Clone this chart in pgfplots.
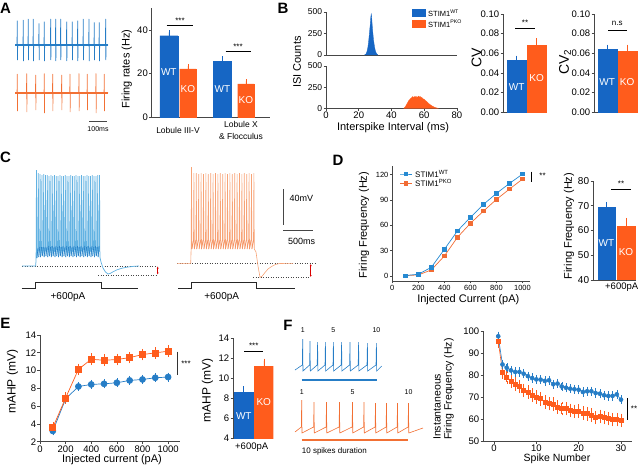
\documentclass[border=0pt]{standalone}
\usepackage{pgfplots}
\pgfplotsset{compat=1.18}
\usepackage{pgfplotstable}
\usepackage{fontspec}
\setmainfont{Liberation Sans}
\usetikzlibrary{arrows.meta}

\definecolor{wtbar}{RGB}{22,102,196}
\definecolor{kobar}{RGB}{255,92,28}
\definecolor{wttr}{RGB}{38,125,198}
\definecolor{kotr}{RGB}{242,112,52}
\definecolor{wtlt}{RGB}{98,178,226}
\definecolor{kolt}{RGB}{247,163,118}
\definecolor{wtln}{RGB}{38,138,210}
\definecolor{koln}{RGB}{241,108,52}
\definecolor{axcol}{RGB}{70,70,70}

\newcommand{\fs}[1]{\fontsize{#1}{#1}\selectfont}

\pgfplotsset{
  /pgf/number format/assume math mode=true,
  /pgf/number format/1000 sep={},
  panel/.style={
    scale only axis, anchor=south west, enlargelimits=false, clip=false,
    axis x line*=bottom, axis y line*=left,
    axis line style={axcol, line width=0.6pt},
    tick style={axcol, line width=0.6pt},
    tick align=outside, major tick length=2.5pt,
    tick label style={inner sep=1.2pt},
  },
  bars/.style={ybar, bar shift=0pt, draw=#1, fill=#1, line width=0.3pt,
    error bars/y dir=plus, error bars/y explicit,
    error bars/error bar style={#1, line width=0.6pt},
    error bars/error mark options={#1, mark size=2pt, line width=0.6pt}},
}

% whole-cell trace at +600pA, WT (picture pixels)
\pgfplotstableread{
x y
22 266
35.7 266
36.1 258
36.5 170
36.9 258
38.0 248
38.3 173
38.7 257
39.8 247
40.1 174
40.5 257
41.6 247
41.9 175
42.3 256
43.4 247
43.7 174
44.1 257
45.2 247
45.5 175
45.9 256
47.0 247
47.3 175
47.7 257
48.8 246
49.1 176
49.5 256
50.6 247
50.9 175
51.3 257
52.4 246
52.7 176
53.1 256
54.2 247
54.5 175
54.9 257
56.0 246
56.3 176
56.7 256
57.8 247
58.1 176
58.5 257
59.6 246
59.9 175
60.3 256
61.4 247
61.7 176
62.1 257
63.2 246
63.5 176
63.9 256
65.0 247
65.3 175
65.7 257
66.8 246
67.1 176
67.5 256
68.6 247
68.9 176
69.3 257
70.4 246
70.7 175
71.1 256
72.2 247
72.5 176
72.9 257
74.0 246
74.3 176
74.7 256
75.8 247
76.1 175
76.5 257
77.6 246
77.9 176
78.3 256
79.4 247
79.7 176
80.1 257
81.2 246
81.5 175
81.9 256
83.0 247
83.3 176
83.7 257
84.8 246
85.1 176
85.5 256
86.6 247
86.9 175
87.3 257
88.4 246
88.7 176
89.1 256
90.2 247
90.5 176
90.9 257
92.0 246
92.3 175
92.7 256
93.8 247
94.1 176
94.5 257
95.6 246
95.9 176
96.3 256
97.4 247
97.7 175
98.1 257
99.2 246
99.5 175
99.9 257
101 262
103 268
105.5 272
108 274
110.5 273.3
113 271.8
117 269.8
122 268.2
128 267
134 266.3
139 266
}\tracewt

% whole-cell trace at +600pA, PKO (picture pixels)
\pgfplotstableread{
x y
177 263.3
190.7 263.3
191.1 250
191.5 167
191.9 249
193.5 240
193.9 173
194.3 249
195.9 240
196.3 173
196.7 249
198.3 240
198.7 174
199.1 249
200.7 240
201.1 173
201.5 249
203.1 240
203.5 174
203.9 249
205.5 240
205.9 173
206.3 249
207.9 240
208.3 174
208.7 249
210.3 240
210.7 173
211.1 249
212.7 240
213.1 174
213.5 249
215.1 240
215.5 173
215.9 249
217.5 240
217.9 174
218.3 249
219.9 240
220.3 173
220.7 249
222.3 240
222.7 174
223.1 249
224.7 240
225.1 173
225.5 249
227.1 240
227.5 174
227.9 249
229.5 240
229.9 173
230.3 249
231.9 240
232.3 174
232.7 249
234.3 240
234.7 173
235.1 249
236.7 240
237.1 174
237.5 249
239.1 240
239.5 173
239.9 249
241.5 240
241.9 174
242.3 249
243.9 240
244.3 173
244.7 249
246.3 240
246.7 174
247.1 249
248.7 240
249.1 173
249.5 249
251.1 240
251.5 174
251.9 249
253.5 240
253.9 173
254.3 249
256 252
258 266
260 277.3
262 276.3
265 272.5
268 269
272 266.2
276 264.3
280 263.5
293 263.3
}\traceko

\begin{document}
\begin{tikzpicture}
\path[use as bounding box] (0,0) rectangle (640pt,469pt);

% ---- A: firing rates
\begin{axis}[panel, at={(151.7pt,352pt)}, width=118.3pt, height=109pt,
  xmin=0, xmax=118.3, ymin=0, ymax=50, xtick=\empty, ytick={0,20,40},
  tick label style={font=\fs{9.5}}]
\addplot[bar width=18, bars=wtbar] coordinates {(17.1,37.3) +- (0,1.5) (70.8,25.4) +- (0,1.5)};
\addplot[bar width=16.5, bars=kobar] coordinates {(36.2,22.1) +- (0,1.2) (94.2,15.2) +- (0,1.1)};
\end{axis}

% ---- B: ISI histograms
\begin{axis}[panel, at={(326pt,414pt)}, width=131pt, height=43pt,
  xmin=0, xmax=80, ymin=0, ymax=500, xtick=\empty, ytick={0,250,500},
  tick label style={font=\fs{8.5}}]
\addplot[fill=wtbar, draw=wtbar, line width=0.3pt] coordinates {
 (23.5,0) (24,5) (24.5,15) (25,40) (25.5,80) (26,150) (26.5,250) (27,350)
 (27.3,430) (27.6,478) (27.9,440) (28.2,350) (28.6,260) (29,180) (29.5,110)
 (30,60) (30.5,30) (31,12) (31.7,0)} \closedcycle;
\end{axis}
\begin{axis}[panel, at={(326pt,360.7pt)}, width=131pt, height=42.3pt,
  xmin=0, xmax=80, ymin=0, ymax=500, xtick={0,20,...,80}, ytick={0,250,500},
  tick label style={font=\fs{9.5}}, yticklabel style={font=\fs{8.5}}]
\addplot[fill=kobar, draw=kobar, line width=0.3pt] coordinates {
 (47.5,0) (48.5,20) (49.5,55) (50.5,90) (51.5,112) (52.5,128) (53,140) (53.5,125)
 (54,138) (54.5,130) (55,142) (55.5,128) (56,135) (56.5,145) (57,132) (57.5,140)
 (58,125) (58.5,130) (59,115) (60,105) (61,88) (62,70) (63,52) (64,38) (65,25)
 (66,15) (67,7) (68.5,0)} \closedcycle;
\end{axis}

% ---- B: CV and CV2
\begin{axis}[panel, at={(503pt,356.7pt)}, width=44pt, height=98.3pt,
  xmin=0, xmax=44, ymin=0, ymax=0.1, xtick=\empty,
  ytick={0,0.02,0.04,0.06,0.08,0.10}, scaled y ticks=false,
  yticklabel style={/pgf/number format/fixed, /pgf/number format/fixed zerofill, /pgf/number format/precision=2},
  tick label style={font=\fs{9.5}}]
\addplot[bar width=19.5, bars=wtbar] coordinates {(13.7,0.0532) +- (0,0.0024)};
\addplot[bar width=19, bars=kobar] coordinates {(33.7,0.0685) +- (0,0.005)};
\end{axis}
\begin{axis}[panel, at={(594pt,356.7pt)}, width=44pt, height=98.3pt,
  xmin=0, xmax=44, ymin=0, ymax=0.1, xtick=\empty,
  ytick={0,0.02,0.04,0.06,0.08,0.10}, scaled y ticks=false,
  yticklabel style={/pgf/number format/fixed, /pgf/number format/fixed zerofill, /pgf/number format/precision=2},
  tick label style={font=\fs{9.5}}]
\addplot[bar width=19, bars=wtbar] coordinates {(13.2,0.064) +- (0,0.0027)};
\addplot[bar width=19, bars=kobar] coordinates {(33.2,0.0627) +- (0,0.004)};
\end{axis}

% ---- D: f-I curve
\begin{axis}[panel, at={(392.3pt,188pt)}, width=138pt, height=115pt,
  xmin=0, xmax=1060, ymin=-6, ymax=130, xtick={0,200,...,1000}, ytick={0,30,...,120},
  tick label style={font=\fs{7.5}}]
\addplot[koln, line width=0.7pt, mark=square*, mark size=1.7pt] coordinates {
 (100,0.4) (200,1.2) (300,7.1) (400,23.6) (500,45.6) (600,62.2) (700,76.7) (800,90.5) (900,102.7) (1000,114.5)};
\addplot[wtln, line width=0.7pt, mark=square*, mark size=1.7pt] coordinates {
 (100,0.4) (200,2) (300,10.2) (400,31.5) (500,53.1) (600,69.3) (700,84.6) (800,97.6) (900,109.4) (1000,120.4)};
\end{axis}

% ---- D: bars at +600pA
\begin{axis}[panel, clip=true, at={(593pt,189pt)}, width=43pt, height=99pt,
  xmin=0, xmax=43, ymin=40, ymax=80, xtick=\empty, ytick={40,50,...,80},
  tick label style={font=\fs{10}}]
\addplot[bar width=17.5, bars=wtbar] coordinates {(13.5,69.3) +- (0,1.5)};
\addplot[bar width=18, bars=kobar] coordinates {(33,61.7) +- (0,2.6)};
\end{axis}

% ---- E: mAHP vs current
\begin{axis}[panel, at={(40pt,27.3pt)}, width=140pt, height=106.7pt,
  xmin=0, xmax=1093, ymin=2, ymax=14, xtick={0,200,...,1000}, ytick={2,4,...,14},
  tick label style={font=\fs{9.5}}]
\addplot[wttr, line width=0.7pt, mark=*, mark size=3pt,
  error bars/.cd, y dir=both, y fixed=0.3, error bar style={line width=0.6pt}, error mark options={mark size=1.8pt}]
  coordinates {(100,3.21) (200,6.81) (300,8.21) (400,8.44) (500,8.51) (600,8.63) (700,8.89) (800,9.0) (900,9.19) (1000,9.27)};
\addplot[kobar, line width=0.7pt, mark=square*, mark size=3pt,
  error bars/.cd, y dir=both, y fixed=0.45, error bar style={line width=0.6pt}, error mark options={mark size=1.8pt}]
  coordinates {(100,3.59) (200,6.92) (300,10.14) (400,11.27) (500,11.16) (600,11.24) (700,11.46) (800,11.8) (900,11.99) (1000,12.18)};
\end{axis}

% ---- E: bars at +600pA
\begin{axis}[panel, clip=true, at={(233pt,31pt)}, width=40.3pt, height=100pt,
  xmin=0, xmax=40.3, ymin=4, ymax=14, xtick=\empty, ytick={4,6,...,14},
  tick label style={font=\fs{9.5}}]
\addplot[bar width=19, bars=wtbar] coordinates {(10.5,8.63) +- (0,0.33)};
\addplot[bar width=19, bars=kobar] coordinates {(30.8,11.23) +- (0,0.5)};
\end{axis}

% ---- F: instantaneous frequency
\begin{axis}[panel, at={(483pt,28pt)}, width=149pt, height=110pt,
  xmin=-2.6, xmax=32.6, ymin=50, ymax=100, xtick={0,10,20,30}, ytick={50,60,...,100},
  tick label style={font=\fs{9.5}}]
\addplot[kobar, line width=0.6pt, mark=square*, mark size=2pt,
  error bars/.cd, y dir=both, y fixed=2.5, error bar style={line width=0.5pt}, error mark options={mark size=1.3pt}]
  coordinates {(1,95.5) (2,81.4) (3,79.1) (4,77.3) (5,75.8) (6,74.8) (7,73.0) (8,72.3) (9,70.8) (10,70.0)
  (11,69.2) (12,67.7) (13,67.0) (14,66.7) (15,65.5) (16,64.7) (17,64.7) (18,63.9) (19,63.5) (20,63.6)
  (21,62.7) (22,62.4) (23,61.7) (24,60.6) (25,61.2) (26,60.6) (27,60.2) (28,59.7) (29,59.7) (30,59.4)};
\addplot[wttr, line width=0.6pt, mark=*, mark size=2pt,
  error bars/.cd, y dir=both, y fixed=1.5, error bar style={line width=0.5pt}, error mark options={mark size=1.3pt}]
  coordinates {(1,97.6) (2,84.8) (3,83.3) (4,82.1) (5,81.4) (6,81.4) (7,80.6) (8,79.5) (9,78.6) (10,78.0)
  (11,77.9) (12,77.3) (13,77.6) (14,75.8) (15,76.1) (16,74.8) (17,74.2) (18,73.8) (19,73.5) (20,73.3)
  (21,72.3) (22,72.6) (23,72.6) (24,71.8) (25,71.5) (26,70.8) (27,70.5) (28,70.5) (29,71.2) (30,68.8)};
\end{axis}

% ---- canvas in picture pixels: traces, scale bars, annotations
\begin{axis}[at={(0pt,0pt)}, anchor=south west, scale only axis, width=640pt, height=469pt,
  xmin=0, xmax=640, ymin=0, ymax=469, y dir=reverse, hide axis, clip=false, enlargelimits=false]

% A traces
\addplot[wttr, line width=0.7pt] coordinates {(15,45)
 (17.0,45) (17.3,20.7) (17.45,60) (17.7,45) (23.0,45) (23.3,20) (23.45,61) (23.7,45)
 (28.0,45) (28.3,19) (28.45,60) (28.7,45) (33.0,45) (33.3,19) (33.45,61) (33.7,45)
 (38.7,45) (39.0,23.3) (39.15,60) (39.4,45) (44.0,45) (44.3,21.7) (44.45,61) (44.7,45)
 (50.4,45) (50.7,19) (50.85,60) (51.1,45) (55.4,45) (55.7,19) (55.85,61) (56.1,45)
 (60.4,45) (60.7,19) (60.85,60) (61.1,45) (66.4,45) (66.7,21.7) (66.85,61) (67.1,45)
 (72.0,45) (72.3,21.7) (72.45,60) (72.7,45) (77.4,45) (77.7,20.7) (77.85,61) (78.1,45)
 (83.0,45) (83.3,19) (83.45,60) (83.7,45) (88.7,45) (89.0,19) (89.15,61) (89.4,45)
 (94.0,45) (94.3,22.3) (94.45,60) (94.7,45) (99.0,45) (99.3,22.3) (99.45,61) (99.7,45)
 (105.4,45) (105.7,19) (105.85,60) (106.1,45) (108,45)};
\addplot[wttr, line width=1.6pt] coordinates {(15,45) (108,45)};
\addplot[kotr, line width=0.6pt] coordinates {(15,92.7)
 (17.0,92.7) (17.3,74) (17.45,111) (17.7,92.7) (26.4,92.7) (26.7,73.5) (26.85,112) (27.1,92.7)
 (35.4,92.7) (35.7,75) (35.85,110) (36.1,92.7) (44.0,92.7) (44.3,73.5) (44.45,113) (44.7,92.7)
 (52.4,92.7) (52.7,74) (52.85,111) (53.1,92.7) (61.4,92.7) (61.7,75) (61.85,110) (62.1,92.7)
 (69.7,92.7) (70.0,74) (70.15,112) (70.4,92.7) (78.7,92.7) (79.0,73.5) (79.15,111) (79.4,92.7)
 (87.0,92.7) (87.3,74) (87.45,110) (87.7,92.7) (95.7,92.7) (96.0,73.5) (96.15,113) (96.4,92.7)
 (104.0,92.7) (104.3,74) (104.45,111) (104.7,92.7) (108,92.7)};
\addplot[kotr, line width=1.6pt] coordinates {(15,92.7) (108,92.7)};
\addplot[axcol, line width=0.7pt] coordinates {(89,121) (106.7,121)};

% C traces
\addplot[axcol, dotted, line width=0.5pt] coordinates {(22,266) (157,266)};
\addplot[axcol, dotted, line width=0.5pt] coordinates {(98,275) (157,275)};
\addplot[wtlt, line width=0.75pt] table {\tracewt};
\addplot[wttr, line width=0.6pt, restrict y to domain=244:259] table {\tracewt};
\addplot[red!85!black, line width=0.5pt, arrows={Latex[length=2pt,width=2pt]-Latex[length=2pt,width=2pt]}]
  coordinates {(157.7,266.5) (157.7,274.5)};
\addplot[black!85, line width=0.8pt] coordinates {(21.7,288.3) (35.7,288.3) (35.7,282.7) (101,282.7) (101,288.3) (138,288.3)};

\addplot[axcol, dotted, line width=0.5pt] coordinates {(177,263.3) (315,263.3)};
\addplot[axcol, dotted, line width=0.5pt] coordinates {(253,277.5) (310,277.5)};
\addplot[kolt, line width=0.6pt] table {\traceko};
\addplot[kotr!80, line width=0.5pt, restrict y to domain=238:251] table {\traceko};
\addplot[red!85!black, line width=0.5pt, arrows={Latex[length=2pt,width=2pt]-Latex[length=2pt,width=2pt]}]
  coordinates {(310.7,264) (310.7,277)};
\addplot[black!85, line width=0.8pt] coordinates {(178,288.3) (191,288.3) (191,282.7) (256,282.7) (256,288.3) (295,288.3)};
\addplot[axcol, line width=0.7pt] coordinates {(283.3,189) (283.3,225)};
\addplot[axcol, line width=0.7pt] coordinates {(283.3,230) (313.3,230)};

% F traces
\addplot[wttr, line width=0.6pt] coordinates {(295,370) (302.3,365) (302.7,339) (303.0,371)
 (309.6,365) (310.0,341) (310.3,371) (317.2,365) (317.6,342) (317.9,371) (325.0,365) (325.4,342) (325.7,371)
 (333.0,365) (333.4,342) (333.7,371) (341.2,365) (341.6,342) (341.9,371) (349.6,365) (350.0,342) (350.3,371)
 (358.2,365) (358.6,342) (358.9,371) (367.0,365) (367.4,343) (367.7,371) (376.0,365) (376.4,343) (376.7,371)
 (381.7,366)};
\addplot[wttr, line width=2.7pt] coordinates {(301.7,380) (376.7,380)};
\addplot[kotr, line width=0.6pt] coordinates {(295,432) (301.3,427) (301.7,400) (302.0,433)
 (313.6,427) (314.0,402) (314.3,433) (326.1,427) (326.5,402) (326.8,433) (339.1,427) (339.5,402) (339.8,433)
 (352.1,427) (352.5,402) (352.8,433) (363.6,427) (364.0,402) (364.3,433) (375.1,427) (375.5,403) (375.8,433)
 (386.1,427) (386.5,403) (386.8,433) (397.1,427) (397.5,403) (397.8,433) (408.1,427) (408.5,403) (408.8,433)
 (423,428)};
\addplot[kotr, line width=2.7pt] coordinates {(301.7,440) (408.3,440)};

% legends
\addplot[wtbar, line width=8.3pt] coordinates {(412,12.85) (426,12.85)};
\addplot[kobar, line width=8pt] coordinates {(412,23.7) (426,23.7)};
\addplot[wtln, line width=0.7pt, mark=square*, mark size=1.7pt, mark indices={2}] coordinates {(400,174) (406,174) (412,174)};
\addplot[koln, line width=0.7pt, mark=square*, mark size=1.7pt, mark indices={2}] coordinates {(400,183.3) (406,183.3) (412,183.3)};

% significance lines
\addplot[black, line width=0.7pt] coordinates {(166.7,25.3) (193.3,25.3)};
\addplot[black, line width=0.7pt] coordinates {(225.7,51) (250.7,51)};
\addplot[black, line width=0.7pt] coordinates {(515,28.3) (535,28.3)};
\addplot[black, line width=0.7pt] coordinates {(608.3,30) (626.7,30)};
\addplot[black, line width=0.7pt] coordinates {(531.7,171.7) (531.7,181.7)};
\addplot[black, line width=0.7pt] coordinates {(611,189.3) (631,189.3)};
\addplot[black!80, line width=0.7pt] coordinates {(177,351.7) (177,375)};
\addplot[black, line width=0.7pt] coordinates {(244,351.7) (263.3,351.7)};
\addplot[black, line width=0.7pt] coordinates {(627.3,398) (627.3,420)};

% panel letters
\node[font=\bfseries\fs{15}] at (axis cs:5.5,8) {A};
\node[font=\bfseries\fs{15}] at (axis cs:283,8) {B};
\node[font=\bfseries\fs{15}] at (axis cs:5.5,157.5) {C};
\node[font=\bfseries\fs{15}] at (axis cs:338,160) {D};
\node[font=\bfseries\fs{15}] at (axis cs:5.5,323) {E};
\node[font=\bfseries\fs{15}] at (axis cs:288,325) {F};

% A text
\node[font=\fs{7}] at (axis cs:98,129) {100ms};
\node[rotate=90, font=\fs{11}] at (axis cs:126.7,69) {Firing rates (Hz)};
\node[font=\fs{8.5}] at (axis cs:178,130) {Lobule III-V};
\node[font=\fs{8.5}] at (axis cs:241,124.7) {Lobule X};
\node[font=\fs{8.5}] at (axis cs:241,136.7) {\& Flocculus};
\node[font=\fs{8}] at (axis cs:180,21) {***};
\node[font=\fs{8}] at (axis cs:238,46.7) {***};
\node[font=\fs{10}, text=white] at (axis cs:168.8,72) {WT};
\node[font=\fs{10}, text=white] at (axis cs:187.9,89.5) {KO};
\node[font=\fs{10}, text=white] at (axis cs:222.5,89.5) {WT};
\node[font=\fs{10}, text=white] at (axis cs:245.9,100) {KO};

% B text
\node[rotate=90, font=\fs{11}] at (axis cs:297,62) {ISI Counts};
\node[font=\fs{11}] at (axis cs:393,128) {Interspike Interval (ms)};
\node[anchor=west, font=\fs{7.5}, inner sep=0pt] at (axis cs:428,12.8) {STIM1\textsuperscript{WT}};
\node[anchor=west, font=\fs{7.5}, inner sep=0pt] at (axis cs:428,23.7) {STIM1\textsuperscript{PKO}};
\node[rotate=90, font=\fs{14}] at (axis cs:476.5,58) {CV};
\node[rotate=90, font=\fs{14}] at (axis cs:565,62) {CV\textsubscript{2}};
\node[font=\fs{8}] at (axis cs:525,23) {**};
\node[font=\fs{8}] at (axis cs:617.3,23.5) {n.s};
\node[font=\fs{10}, text=white] at (axis cs:516.7,86.7) {WT};
\node[font=\fs{10}, text=white] at (axis cs:536.7,78.3) {KO};
\node[font=\fs{10}, text=white] at (axis cs:607.2,81.7) {WT};
\node[font=\fs{10}, text=white] at (axis cs:627.2,81.7) {KO};

% C text
\node[font=\fs{10}] at (axis cs:68,296.7) {+600pA};
\node[font=\fs{10}] at (axis cs:221.7,296.7) {+600pA};
\node[anchor=west, font=\fs{9}] at (axis cs:286,198) {40mV};
\node[font=\fs{9}] at (axis cs:301.7,241) {500ms};

% D text
\node[rotate=90, font=\fs{11}] at (axis cs:364,225) {Firing Frequency (Hz)};
\node[font=\fs{11}] at (axis cs:468.3,300) {Injected Current (pA)};
\node[anchor=west, font=\fs{8}, inner sep=0pt] at (axis cs:415,174) {STIM1\textsuperscript{WT}};
\node[anchor=west, font=\fs{8}, inner sep=0pt] at (axis cs:415,183.3) {STIM1\textsuperscript{PKO}};
\node[font=\fs{8}] at (axis cs:542.5,176) {**};
\node[rotate=90, font=\fs{11}] at (axis cs:569,226) {Firing Frequency (Hz)};
\node[font=\fs{8}] at (axis cs:621,183.5) {**};
\node[font=\fs{9.5}] at (axis cs:621.7,287.3) {+600pA};
\node[font=\fs{10}, text=white] at (axis cs:606.5,243.3) {WT};
\node[font=\fs{10}, text=white] at (axis cs:626,251.7) {KO};

% E text
\node[rotate=90, font=\fs{12}] at (axis cs:12.5,381.7) {mAHP (mV)};
\node[font=\fs{11}] at (axis cs:112,459.5) {Injected current (pA)};
\node[font=\fs{8}] at (axis cs:186,364) {***};
\node[rotate=90, font=\fs{12}] at (axis cs:207.5,390) {mAHP (mV)};
\node[font=\fs{8}] at (axis cs:253.7,346) {***};
\node[font=\fs{9.5}] at (axis cs:251.7,446.7) {+600pA};
\node[font=\fs{10}, text=white] at (axis cs:243.8,416) {WT};
\node[font=\fs{10}, text=white] at (axis cs:263.8,401.7) {KO};

% F text
\node[font=\fs{7}] at (axis cs:302.7,330) {1};
\node[font=\fs{7}] at (axis cs:333.4,330) {5};
\node[font=\fs{7}] at (axis cs:376.4,330) {10};
\node[font=\fs{7}] at (axis cs:301.7,391.7) {1};
\node[font=\fs{7}] at (axis cs:352.5,391.7) {5};
\node[font=\fs{7}] at (axis cs:408.5,391.7) {10};
\node[anchor=west, font=\fs{8}, inner sep=0pt] at (axis cs:301.7,451.7) {10 spikes duration};
\node[rotate=90, anchor=west, font=\fs{10.5}, inner sep=0pt] at (axis cs:437,440) {Instantaneous};
\node[rotate=90, anchor=west, font=\fs{10.5}, inner sep=0pt] at (axis cs:449,440) {Firing Frequency (Hz)};
\node[font=\fs{10.5}] at (axis cs:557,459) {Spike Number};
\node[font=\fs{8}] at (axis cs:634,409) {**};
\end{axis}
\end{tikzpicture}
\end{document}
